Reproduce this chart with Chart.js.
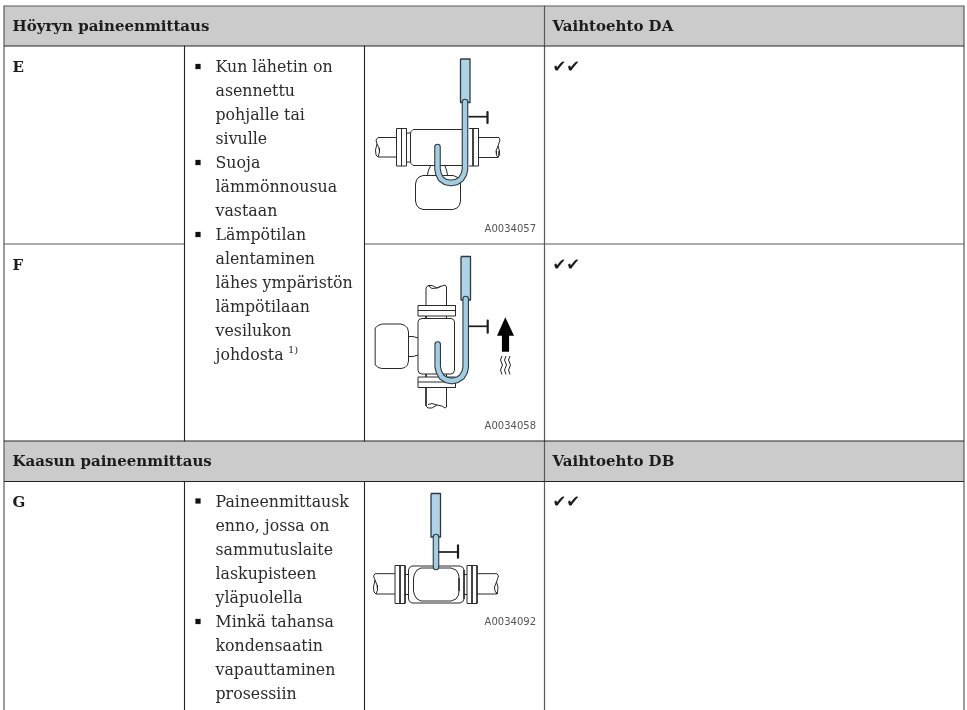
<!DOCTYPE html>
<html>
<head>
<meta charset="utf-8">
<title>Höyryn paineenmittaus</title>
<script src="https://cdn.jsdelivr.net/npm/chart.js@4/dist/chart.umd.js"></script>
<style>
  html, body { margin: 0; padding: 0; background: #fff; }
  canvas { display: block; }
</style>
</head>
<body>
<canvas id="table" width="967" height="710"></canvas>
<script>
// table texts
const headerLabels = ['Höyryn paineenmittaus', 'Vaihtoehto DA', 'Kaasun paineenmittaus', 'Vaihtoehto DB'];
const headerX = [12.5, 552.5, 12.5, 552.5];
const headerY = [31, 31, 466, 466];
const rowLabels = ['E', 'F', 'G'];
const rowY = [72, 270, 507];
const listLines = [
  'Kun lähetin on', 'asennettu', 'pohjalle tai', 'sivulle', 'Suoja', 'lämmönnousua', 'vastaan',
  'Lämpötilan', 'alentaminen', 'lähes ympäristön', 'lämpötilaan', 'vesilukon', 'johdosta',
  'Paineenmittausk', 'enno, jossa on', 'sammutuslaite', 'laskupisteen', 'yläpuolella',
  'Minkä tahansa', 'kondensaatin', 'vapauttaminen', 'prosessiin'
];
const listY = [72, 96, 120, 144, 168, 192, 216, 240, 264, 288, 312, 336, 360,
  507, 531, 555, 579, 603, 627, 651, 675, 699];
const bulletPoints = [[198, 66.5], [198, 162.5], [198, 234.5], [198, 501], [198, 621.5]];
const checkLabels = ['✔✔', '✔✔', '✔✔'];
const checkY = [72, 270, 507];
const captionLabels = ['A0034057', 'A0034058', 'A0034092'];
const captionY = [232, 429, 625];

// table rules
const headerBands = [[4, 964, 6, 46], [4, 964, 441, 481.5]];
const darkRules = [
  [[4, 46], [964, 46]], [[4, 441], [964, 441]], [[4, 481.5], [964, 481.5]],
  [[184.5, 46], [184.5, 441]], [[364.5, 46], [364.5, 441]],
  [[184.5, 481.5], [184.5, 710]], [[364.5, 481.5], [364.5, 710]]
];
const grayRules = [
  [[4, 6], [964, 6]], [[4, 6], [4, 710]], [[964, 6], [964, 710]], [[544.5, 6], [544.5, 710]],
  [[4, 244], [184.5, 244]], [[364.5, 244], [964, 244]]
];

// blue transmitter tubes
const blueBlocks = [[460.5, 470, 59, 102.5], [461, 470.5, 256.5, 300], [431, 440.5, 493.5, 537]];
const siphonE = [[465, 102], [465, 169], [464, 174], [461, 179], [456.5, 182], [451, 183], [445.5, 182], [441, 179], [438.5, 174], [437.5, 169], [437.5, 147]];
const siphonF = [[465.7, 299], [465.7, 367], [464.7, 372], [461.7, 377], [457, 380], [451.7, 381], [446.5, 380], [441.7, 377], [439, 372], [437.7, 367], [437.7, 344.5]];
const stemG = [[436, 537], [436, 567]];

// diagram outlines
const outlinesE = [
  [[416, 129.5], [468, 129.5]], [[468, 165.5], [413, 165.5], [411, 163.5], [410.5, 161], [410.5, 134], [411, 131.5], [413, 129.5], [416, 129.5]],
  [[396.5, 128.5], [406.5, 128.5], [406.5, 166], [396.5, 166], [396.5, 128.5]], [[401.5, 128.5], [401.5, 166]],
  [[406.5, 133], [410.5, 133]], [[406.5, 162], [410.5, 162]],
  [[469, 128.5], [478.5, 128.5], [478.5, 166], [469, 166]], [[473, 128.5], [473, 166]],
  [[396.5, 137.5], [378, 137.5], [376, 140], [377, 144], [379, 148], [379.5, 152], [378, 157], [396.5, 157]],
  [[377, 144], [375.5, 150], [376, 155], [378, 157]],
  [[478.5, 137.5], [499, 137.5], [500, 140], [498, 146], [496, 151], [496.5, 155], [498, 157.5], [478.5, 157.5]],
  [[498, 146], [499.5, 151], [499, 155.5], [498, 157.5]],
  [[427.5, 175], [428.5, 170], [430.5, 166]], [[447.5, 175], [446.5, 170], [445, 166]],
  [[423, 175.5], [453, 175.5], [457, 177], [459.5, 180], [460.5, 184], [460.5, 201], [459.5, 205], [457, 208], [453, 209.5], [423, 209.5], [419, 208], [416.5, 205], [415.5, 201], [415.5, 184], [416.5, 180], [419, 177], [423, 175.5]]
];
const outlinesF = [
  [[422, 318.5], [451, 318.5], [453.5, 319.5], [454.5, 322], [454.5, 370], [453.5, 373], [451, 374], [422, 374], [419, 373], [418, 370], [418, 322], [419, 319.5], [422, 318.5]],
  [[418, 305.5], [455.5, 305.5], [455.5, 316], [418, 316], [418, 305.5]], [[418, 310.5], [455.5, 310.5]],
  [[426, 316], [426, 318.5]], [[446.5, 316], [446.5, 318.5]],
  [[418, 377], [455.5, 377], [455.5, 387.5], [418, 387.5], [418, 377]], [[418, 382], [455.5, 382]],
  [[426, 374], [426, 377]], [[446.5, 374], [446.5, 377]],
  [[426, 305.5], [426, 288], [428, 285.5], [432, 285.5], [437, 288], [442, 286], [445, 285], [446.5, 287], [446.5, 305.5]],
  [[428, 285.5], [432, 288.5], [437, 288], [441, 286]],
  [[426, 387.5], [426, 406], [428, 408], [432, 408], [437, 405], [442, 406], [445, 408], [446.5, 407], [446.5, 387.5]],
  [[428, 404.5], [432, 403.5], [437, 405]],
  [[382, 324], [401, 324], [405, 325.5], [407.5, 328], [408.5, 332], [408.5, 361], [407.5, 365], [405, 367.5], [401, 368.5], [382, 368.5], [378, 367.5], [375.5, 365], [375, 361], [375, 332], [375.5, 328], [378, 325.5], [382, 324]],
  [[408.5, 336.5], [413, 336.5], [418, 338]], [[408.5, 356.5], [413, 356.5], [418, 355]]
];
const outlinesG = [
  [[412, 566], [460, 566], [463, 567.5], [464, 570], [464, 599], [463, 601.5], [460, 603], [412, 603], [409.5, 601.5], [408.5, 599], [408.5, 570], [409.5, 567.5], [412, 566]],
  [[421, 568], [451, 568], [456, 570], [458.5, 574], [459, 578], [459, 591], [458.5, 595], [456, 599], [451, 601], [421, 601], [417, 599], [414.5, 595], [413.5, 591], [413.5, 578], [414.5, 574], [417, 570], [421, 568]],
  [[395, 565.5], [405, 565.5], [405, 603.5], [395, 603.5], [395, 565.5]], [[400, 565.5], [400, 603.5]],
  [[405, 574.5], [408.5, 574.5]], [[405, 594.5], [408.5, 594.5]],
  [[467, 565.5], [477, 565.5], [477, 603.5], [467, 603.5], [467, 565.5]], [[472, 565.5], [472, 603.5]],
  [[464, 574.5], [467, 574.5]], [[464, 594.5], [467, 594.5]],
  [[395, 573.7], [375, 573.7], [373.5, 576], [375, 580], [377, 585], [377.5, 590], [376, 594], [395, 594]],
  [[375, 580], [373.5, 587], [374, 592], [376, 594]],
  [[477, 573.7], [497, 573.7], [498.5, 576], [496.5, 582], [494.5, 587], [495, 591], [497, 594], [477, 594]],
  [[496.5, 582], [498, 587], [497.5, 592], [497, 594]]
];

// valve handles, arrow, heat waves
const valveLines = [
  [[468.5, 116.7], [487, 116.7]], [[468.7, 326.3], [487, 326.3]], [[439, 552], [457.5, 552]]
];
const valveBars = [
  [[487.5, 112], [487.5, 123]], [[487.7, 320.7], [487.7, 332.7]], [[458, 545.3], [458, 557.7]]
];
const arrowHead = [[497, 335.7], [505.3, 317.3], [514, 335.7]];
const arrowShaft = [[501.7, 335], [509.3, 335]];
const arrowBottom = 351.7;
const heatWaves = [
  [[502, 356], [500.5, 360], [502.5, 365], [500.5, 370], [502, 374.5]],
  [[506, 356], [504.5, 360], [506.5, 365], [504.5, 370], [506, 374.5]],
  [[510, 356], [508.5, 360], [510.5, 365], [508.5, 370], [510, 374.5]]
];

const datasets = [];
function addLine(points, width, color, extra) {
  datasets.push(Object.assign({
    data: points, showLine: true, pointRadius: 0, borderWidth: width, borderColor: color,
    backgroundColor: color, fill: false, tension: 0, clip: false,
    borderJoinStyle: 'round', borderCapStyle: 'butt'
  }, extra || {}));
}

headerBands.forEach(b => addLine([[b[0], b[2]], [b[1], b[2]]], 0, '#cbcbcb', { fill: { target: { value: b[3] } } }));
grayRules.forEach(r => addLine(r, 1.2, '#5a5a5a'));
darkRules.forEach(r => addLine(r, 1.1, '#242424'));
[outlinesE, outlinesF, outlinesG].forEach(group => group.forEach(p => addLine(p, 1, '#2a2a2a')));

blueBlocks.forEach(b => {
  addLine([[b[0], b[2]], [b[1], b[2]]], 0, '#afd3e6', { fill: { target: { value: b[3] } } });
  addLine([[b[0], b[2]], [b[1], b[2]], [b[1], b[3]], [b[0], b[3]], [b[0], b[2]]], 1.3, '#2f3a40');
});
[siphonE, siphonF, stemG].forEach((p, i) => {
  const cap = i < 2 ? 'round' : 'butt';
  addLine(p, 6.6, '#2f3a40', { borderCapStyle: cap });
  addLine(p, 4.4, '#a5cde2', { borderCapStyle: cap });
});

valveLines.forEach(p => addLine(p, 1.7, '#1c1c1c'));
valveBars.forEach(p => addLine(p, 2.2, '#1c1c1c'));
addLine(arrowHead, 0, '#000', { fill: { target: { value: arrowHead[0][1] } } });
addLine(arrowShaft, 0, '#000', { fill: { target: { value: arrowBottom } } });
heatWaves.forEach(p => addLine(p, 1, '#222'));
datasets.push({ data: bulletPoints, pointStyle: 'rect', pointRadius: 3.7, pointBackgroundColor: '#111', pointBorderWidth: 0, clip: false });

// chart.js paints the first dataset on top, so flip the painter's order
datasets.reverse();

const textPlugin = {
  id: 'tableText',
  afterDatasetsDraw(chart) {
    const { ctx, scales: { x, y } } = chart;
    function put(txt, px, py, font, color, align) {
      ctx.font = font;
      ctx.fillStyle = color;
      ctx.textAlign = align || 'left';
      ctx.textBaseline = 'alphabetic';
      ctx.fillText(txt, x.getPixelForValue(px), y.getPixelForValue(py));
    }
    ctx.save();
    const bold = '600 15px "DejaVu Serif"';
    const body = '15.8px "DejaVu Serif"';
    headerLabels.forEach((t, i) => put(t, headerX[i], headerY[i], bold, '#1c1c1c'));
    rowLabels.forEach((t, i) => put(t, 12.5, rowY[i], bold, '#1c1c1c'));
    listLines.forEach((t, i) => put(t, 215.5, listY[i], body, '#2b2b2b'));
    put('1)', 288, 353, '10px "DejaVu Serif"', '#2b2b2b');
    checkLabels.forEach((t, i) => put(t, 552.5, checkY[i], '16.5px "DejaVu Sans"', '#1c1c1c'));
    captionLabels.forEach((t, i) => put(t, 536, captionY[i], '10px "DejaVu Sans"', '#555', 'right'));
    ctx.restore();
  }
};

new Chart(document.getElementById('table'), {
  type: 'scatter',
  data: { datasets: datasets },
  plugins: [textPlugin],
  options: {
    responsive: false,
    animation: false,
    events: [],
    layout: { padding: 0, autoPadding: false },
    plugins: { legend: { display: false }, tooltip: { enabled: false } },
    scales: {
      x: { type: 'linear', display: false, min: 0, max: 967 },
      y: { type: 'linear', display: false, min: 0, max: 710, reverse: true }
    }
  }
});
</script>
</body>
</html>
